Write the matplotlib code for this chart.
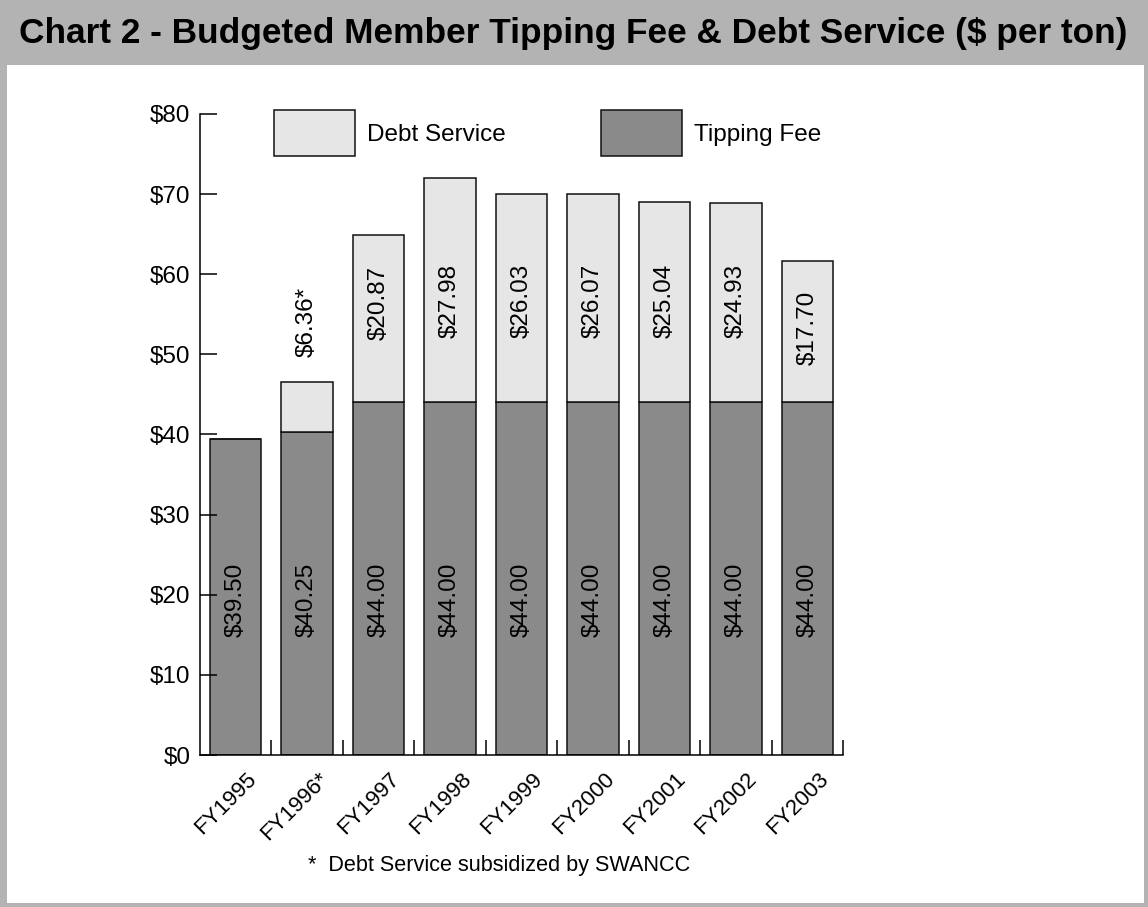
import numpy as np
import matplotlib
matplotlib.use("Agg")
import matplotlib.pyplot as plt
from matplotlib.patches import Rectangle
from matplotlib.transforms import ScaledTranslation

years = ["FY1995", "FY1996*", "FY1997", "FY1998", "FY1999", "FY2000", "FY2001", "FY2002", "FY2003"]
tipping_fee = [39.50, 40.25, 44.00, 44.00, 44.00, 44.00, 44.00, 44.00, 44.00]
debt_service = [0.00, 6.36, 20.87, 27.98, 26.03, 26.07, 25.04, 24.93, 17.70]
y_ticks = [0, 10, 20, 30, 40, 50, 60, 70, 80]

W, H = 1148, 907
plt.rcParams["font.family"] = ["Liberation Sans", "DejaVu Sans"]

fig = plt.figure(figsize=(W / 100, H / 100), dpi=100)
fig.patch.set_facecolor("#b3b3b3")
fig.patches.append(Rectangle((7 / W, 1 - 903 / H), 1137 / W, 838 / H, transform=fig.transFigure,
                             facecolor="white", edgecolor="none", zorder=-1))

title = fig.text(573 / W, 1 - 33 / H, "Chart 2 - Budgeted Member Tipping Fee & Debt Service ($ per ton)",
                 ha="center", va="center", fontsize=26, fontweight="bold")
# fit the title to the band width
renderer = fig.canvas.get_renderer()
tw = title.get_window_extent(renderer).width
title.set_fontsize(26 * 1110 / tw)

ax = fig.add_axes([200 / W, 1 - 755 / H, 643 / W, 641 / H])
ax.set_facecolor("none")

x = np.arange(len(years))
tip = np.array(tipping_fee)
debt = np.array(debt_service)

tip_bars = ax.bar(x, tip, width=0.72, color="#8a8a8a", edgecolor="#111111", linewidth=1.1)
debt_bars = ax.bar(x, debt, bottom=tip, width=0.72, color="#e6e6e6", edgecolor="#111111", linewidth=1.1)

fs = 17.5
for i in range(len(years)):
    ax.text(x[i], 19.4, f"${tip[i]:.2f}", rotation=90, ha="center", va="center", fontsize=fs)
    if debt[i] <= 0:
        continue
    top = tip[i] + debt[i]
    if tip[i] >= 44:
        ax.text(x[i], min(top - 8.4, 56.7), f"${debt[i]:.2f}", rotation=90,
                ha="center", va="center", fontsize=fs)
    else:
        # subsidized year: label sits above the bar
        ax.text(x[i], top + 3, f"${debt[i]:.2f}*", rotation=90,
                ha="center", va="bottom", fontsize=fs)

ax.set_xlim(-0.5, len(years) - 0.5)
ax.set_ylim(0, 80)
ax.spines[["top", "right"]].set_visible(False)
ax.spines[["left", "bottom"]].set_linewidth(1.1)

ax.set_yticks(y_ticks, [f"${v}" for v in y_ticks])
ax.tick_params(axis="y", direction="in", length=12.5, width=1.1, labelsize=fs, pad=7)

ax.set_xticks(x + 0.5, [""] * len(years))
ax.tick_params(axis="x", which="major", direction="in", length=11, width=1.1)
ax.set_xticks(x, years, minor=True, rotation=45, ha="right", va="center", rotation_mode="anchor")
ax.tick_params(axis="x", which="minor", length=0, labelsize=16, pad=15)
for lbl in ax.get_xticklabels(minor=True):
    lbl.set_transform(lbl.get_transform() + ScaledTranslation(0.18, 0, fig.dpi_scale_trans))

ax.legend([debt_bars, tip_bars], ["Debt Service", "Tipping Fee"], ncol=2, frameon=False,
          loc="upper left", bbox_to_anchor=(274 / W, 1 - 110 / H), bbox_transform=fig.transFigure,
          borderpad=0, borderaxespad=0, handlelength=3.33, handleheight=2.55, handletextpad=0.5,
          columnspacing=3.9, fontsize=fs)

fig.text(499 / W, 1 - 866 / H, "*  Debt Service subsidized by SWANCC", ha="center", va="center", fontsize=15.6)

fig.savefig("out.png", dpi=100, facecolor=fig.get_facecolor())
